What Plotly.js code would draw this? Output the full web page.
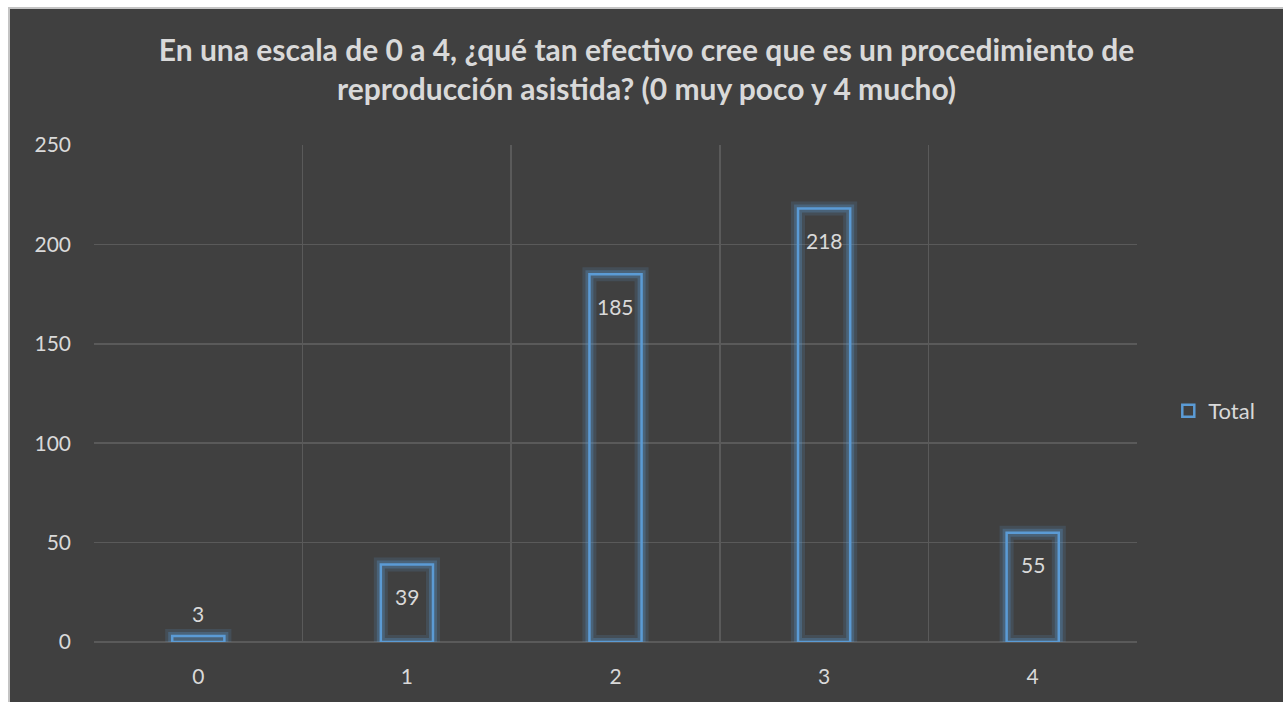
<!DOCTYPE html>
<html>
<head>
<meta charset="utf-8">
<script src="https://cdn.plot.ly/plotly-3.0.1.min.js"></script>
<style>
html,body{margin:0;padding:0;background:#ffffff;width:1283px;height:702px;overflow:hidden;}
#frame{position:absolute;left:8px;top:7px;border-left:2px solid #c4c4c4;border-top:2px solid #c4c4c4;width:1273px;height:693px;background:#404040;}
#chart{width:1273px;height:693px;}
</style>
</head>
<body>
<div id="frame"><div id="chart"></div></div>
<script>
const categories = ['0', '1', '2', '3', '4'];
const totals = [3, 39, 185, 218, 55];
const labels = ['3', '39', '185', '218', '55'];
const seriesName = 'Total';
const chartTitle = 'En una escala de 0 a 4, ¿qué tan efectivo cree que es un procedimiento de<br>reproducción asistida? (0 muy poco y 4 mucho)';

const txt = '#d9d9d9';
const blue = '#5B9BD5';
const font = 'Lato, "Open Sans", sans-serif';

const glowOuter = {
  type: 'bar', x: categories, y: totals, width: 0.25,
  marker: {color: 'rgba(0,0,0,0)', line: {color: 'rgba(91,155,213,0.16)', width: 14}},
  showlegend: false, hoverinfo: 'skip'
};
const glowInner = {
  type: 'bar', x: categories, y: totals, width: 0.25,
  marker: {color: 'rgba(0,0,0,0)', line: {color: 'rgba(91,155,213,0.28)', width: 8}},
  showlegend: false, hoverinfo: 'skip'
};
const main = {
  type: 'bar', x: categories, y: totals, width: 0.25, name: seriesName,
  marker: {color: 'rgba(0,0,0,0)', line: {color: blue, width: 2.5}}
};

const annotations = categories.map((c, i) => ({
  x: c, y: totals[i], xref: 'x', yref: 'y', text: labels[i], showarrow: false,
  yshift: totals[i] < 15 ? 23 : -32,
  font: {family: font, size: 21, color: txt}
}));

const layout = {
  width: 1273, height: 693,
  paper_bgcolor: '#404040', plot_bgcolor: '#404040',
  margin: {l: 84, r: 146, t: 136, b: 60},
  font: {family: font, color: txt, size: 21},
  title: {text: chartTitle, font: {family: font, size: 30, color: txt, weight: 'bold'},
          x: 0.5, xanchor: 'center', y: 0.925, yanchor: 'top', yref: 'container'},
  barmode: 'overlay',
  xaxis: {type: 'category', range: [-0.5, 4.5], tickson: 'boundaries', showgrid: true,
          gridcolor: '#5a5a5a', gridwidth: 1.5, ticks: '', ticklabelstandoff: 20,
          tickfont: {family: font, size: 21, color: txt}, showline: false, zeroline: false},
  yaxis: {range: [0, 250], dtick: 50, showgrid: true, gridcolor: '#5a5a5a', gridwidth: 1.5,
          zeroline: true, zerolinecolor: '#5a5a5a', zerolinewidth: 1.5, ticks: '', ticklabelstandoff: 22,
          tickfont: {family: font, size: 21, color: txt}, fixedrange: true},
  showlegend: true,
  legend: {x: 1.03, xanchor: 'left', y: 0.465, yanchor: 'middle', bgcolor: 'rgba(0,0,0,0)',
           font: {family: font, size: 22, color: txt}, itemwidth: 30},
  annotations: annotations
};

Plotly.newPlot('chart', [glowOuter, glowInner, main], layout, {displayModeBar: false, staticPlot: true});
</script>
</body>
</html>
